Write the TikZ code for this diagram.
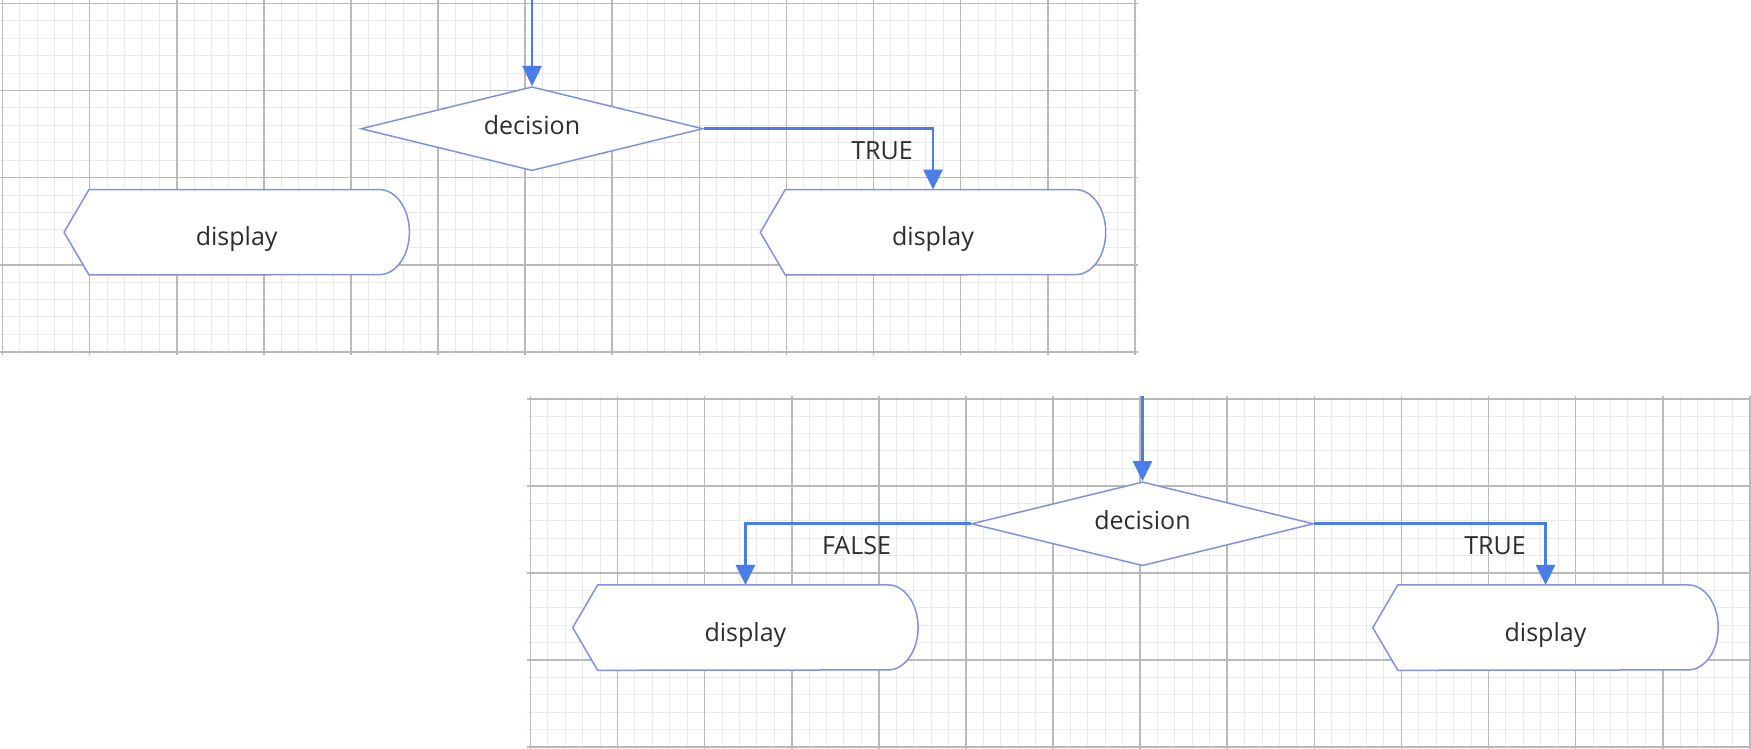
\documentclass[tikz,border=0pt]{standalone}
\usepackage{fontspec}
\setmainfont{Open Sans}
\usetikzlibrary{shapes.geometric,arrows.meta}
\pgfdeclarelayer{gridlayer}
\pgfdeclarelayer{shapelayer}
\pgfsetlayers{gridlayer,shapelayer,main}
\definecolor{connblue}{RGB}{74,124,234}
\definecolor{shapeline}{RGB}{128,145,228}
\definecolor{majgrid}{RGB}{185,185,185}
\definecolor{mingrid}{RGB}{234,234,234}
\definecolor{txtgray}{RGB}{45,45,45}
\tikzset{
  mingridline/.style={draw=mingrid, line width=1pt},
  majgridline/.style={draw=majgrid, line width=1.6pt},
  decisionbox/.style={shape=diamond, aspect=4.07, draw=shapeline, fill=white, line width=1.5pt,
    minimum width=342pt, minimum height=84pt, inner sep=0pt,
    text height=12pt, text depth=0pt, text=txtgray},
  displaybox/.style={shape=rectangle, draw=none, minimum width=345pt, minimum height=85pt,
    inner sep=0pt, text height=27pt, text depth=0pt, text=txtgray},
  dispedge/.style={draw=shapeline, fill=white, line width=1.5pt, line join=round},
  conn/.style={draw=connblue, line width=2.8pt, -{Triangle[length=20pt,width=19pt]}},
  lbl/.style={text=txtgray, inner sep=0pt, anchor=base}
}
% #1 = X0, #2 = Y0, #3 = number of minor columns, #4 = number of major columns
\newcommand\mygridpanel[4]{%
  \fill[white] ({#1-3},{#2-3}) rectangle ({#1+#4*87.1+3},{#2+348.4+3});
  \foreach \k in {0,...,#3}{\draw[mingridline] ({#1+\k*17.42},{#2-3}) -- ++(0,354.4);}
  \foreach \k in {0,...,20}{\draw[mingridline] ({#1-3},{#2+\k*17.42}) -- ({#1+#4*87.1+3},{#2+\k*17.42});}
  \foreach \k in {0,...,#4}{\draw[majgridline] ({#1+\k*87.1},{#2-3}) -- ++(0,354.4);}
  \foreach \k in {0,...,4}{\draw[majgridline] ({#1-3},{#2+\k*87.1}) -- ({#1+#4*87.1+3},{#2+\k*87.1});}
}
\newcommand\dispoutline[1]{%
  \draw[dispedge] (#1.west) -- ([xshift=25pt]#1.north west) -- ([xshift=-30pt]#1.north east)
    arc[start angle=90, end angle=-90, x radius=30pt, y radius=42.5pt]
    -- ([xshift=25pt]#1.south west) -- cycle;}
\begin{document}
\begin{tikzpicture}[x=1pt, y=-1pt, font=\fontsize{25}{30}\selectfont]
\useasboundingbox (0,0) rectangle (1751,749);
\begin{pgfonlayer}{gridlayer}
  \fill[white] (0,0) rectangle (1751,749);
  \mygridpanel{2.5}{3.4}{65}{13}
  \mygridpanel{530.4}{398.7}{70}{14}
\end{pgfonlayer}

% ---------- top panel ----------
\coordinate (in1) at (532,0);
\node[decisionbox] (d1) at (532,128.7) {decision};
\node[displaybox] (l1) at (236.7,232.3) {display};
\node[displaybox] (r1) at (933,232.3) {display};
\begin{pgfonlayer}{shapelayer}
  \dispoutline{l1}
  \dispoutline{r1}
\end{pgfonlayer}
\draw[conn] (in1) -- (d1.north);
\draw[conn] (d1.east) -| (r1.north);
\node[lbl] (t1) at (882,159.3) {TRUE};

% ---------- bottom panel ----------
\coordinate (in2) at (1142.5,396);
\node[decisionbox] (d2) at (1142.5,523.8) {decision};
\node[displaybox] (l2) at (745.4,627.6) {display};
\node[displaybox] (r2) at (1545.5,627.6) {display};
\begin{pgfonlayer}{shapelayer}
  \dispoutline{l2}
  \dispoutline{r2}
\end{pgfonlayer}
\draw[conn] (in2) -- (d2.north);
\draw[conn] (d2.west) -| (l2.north);
\draw[conn] (d2.east) -| (r2.north);
\node[lbl] (f2) at (856.5,554.6) {FALSE};
\node[lbl] (t2) at (1495,554.6) {TRUE};
\end{tikzpicture}
\end{document}
